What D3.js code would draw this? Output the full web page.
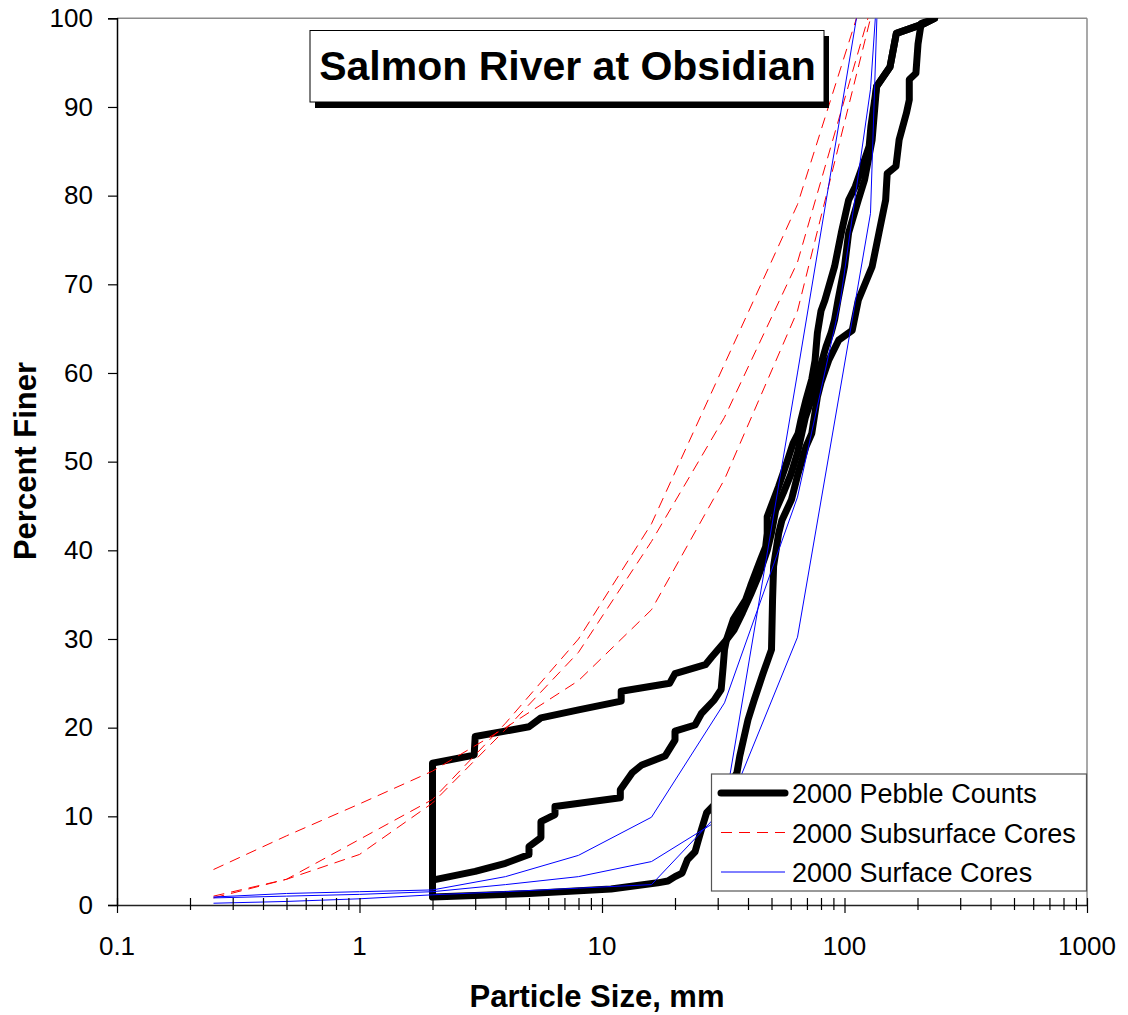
<!DOCTYPE html>
<html>
<head>
<meta charset="utf-8">
<script src="https://cdn.jsdelivr.net/npm/d3@7"></script>
<style>
  body { margin: 0; background: #fff; }
  text { font-family: "Liberation Sans", Arial, sans-serif; }
</style>
</head>
<body>
<div id="chart"></div>
<script>
// ---- data ----
var xTickLabels = ["0.1", "1", "10", "100", "1000"];
var yTickValues = [0, 10, 20, 30, 40, 50, 60, 70, 80, 90, 100];
var legendLabels = ["2000 Pebble Counts", "2000 Subsurface Cores", "2000 Surface Cores"];

// pebble counts (mm, percent finer)
var pebbleSize1 = [2, 2, 2.97, 3, 5, 5.6, 8, 12, 12, 19, 20, 26.7, 28.4, 32.6, 34.8, 39.1, 41, 45, 47.3, 48, 48, 53.5, 58, 61.4, 64.4, 66, 69.4, 73.3, 75.6, 77.3, 80, 83, 91, 97, 104, 110.7, 118.5, 126.4, 128.5, 135.6, 154, 163.6, 213, 235];
var pebblePct1  = [1, 16, 16.9, 19, 20.1, 21.1, 22, 23, 24.1, 25, 26.1, 27.1, 28, 29.9, 32.2, 34.4, 36, 38.9, 40.4, 41.9, 43.8, 47.2, 50, 52.1, 53.2, 54.6, 57, 59.3, 61.4, 64.5, 67, 68.2, 72, 75.8, 79.5, 81, 83.3, 85.6, 87.8, 92.3, 94.5, 98.3, 99.4, 100];

var pebbleSize2 = [2, 3, 4, 5, 5, 5.6, 5.6, 6.4, 6.4, 11.9, 11.9, 13.3, 14.6, 18.2, 20, 20, 24.2, 25.7, 29, 31, 31.6, 32, 32.6, 35, 38, 41, 44, 46, 48, 50, 52, 56, 60, 64, 69, 73, 77, 80, 84, 88, 91, 94, 100, 104, 114, 121, 130, 135.6, 154, 163.6, 213, 235];
var pebblePct2  = [2.8, 3.8, 4.7, 5.7, 6.6, 7.6, 9.4, 10.2, 11.1, 12.1, 13, 14.9, 15.8, 16.8, 18.6, 19.6, 20.3, 21.6, 23.1, 24.3, 26.9, 28.8, 29.9, 31, 33, 35, 37, 38.5, 40, 42, 44.5, 46.5, 48.5, 51, 55, 57, 59.3, 61, 63, 64.5, 66, 68.2, 72, 75.8, 79.5, 81.8, 86.3, 92.3, 94.5, 98.3, 99.4, 100];

var pebbleSize3 = [2, 5, 10.9, 17, 18.7, 20, 21.4, 22.5, 24.2, 24.9, 25.7, 27, 30, 33, 36, 37, 40, 42.4, 46, 50, 50.5, 51, 53.5, 55.2, 60.4, 64.4, 69.4, 73.3, 77.3, 80, 86, 94.6, 107.6, 114, 130, 138.7, 147.8, 150, 163, 168, 180, 185, 185, 197, 201, 207, 235];
var pebblePct3  = [0.9, 1.3, 1.8, 2.5, 2.7, 3.2, 3.6, 5.1, 6, 7.2, 8.5, 10.4, 11.7, 13.2, 14.9, 16.8, 20.9, 23.1, 26, 28.8, 34.4, 38.2, 41.9, 43.4, 45.7, 48.7, 51.7, 53.2, 57.3, 58.9, 61.4, 63.7, 64.8, 68.2, 72, 75.8, 79.5, 82.5, 83.3, 86.3, 89.3, 90.8, 93.1, 93.8, 97.1, 99.4, 100];

// subsurface cores, sieve sizes
var coreSizes = [0.25, 0.5, 1, 2, 4, 8, 16, 32, 64, 128];
var subsurface1 = [4, 7.8, 11.4, 15.1, 20, 25.3, 33.3, 48, 67, 100];
var subsurface2 = [1, 2.9, 7.4, 11.9, 20.5, 30, 43, 61, 79, 105];
var subsurface3 = [0.8, 2.9, 5.7, 11.5, 19.8, 28.5, 41, 55, 72.5, 101];

// surface cores
var surfaceSize1 = [0.25, 0.5, 1, 2, 4, 8, 16, 32, 64, 96, 128, 134];
var surfacePct1  = [0.9, 1.3, 1.5, 1.7, 3.2, 5.6, 9.9, 22.8, 46, 68, 92, 100];
var surfaceSize2 = [0.25, 0.5, 1, 2, 4, 8, 16, 32, 64, 128, 136];
var surfacePct2  = [0.8, 1, 1.2, 1.5, 2.3, 3.2, 4.9, 10, 30.2, 78, 100];
var surfaceSize3 = [0.25, 0.5, 1, 2, 4, 8, 16, 32, 64, 112];
var surfacePct3  = [0.2, 0.4, 0.7, 1.15, 1.5, 1.9, 2.3, 11, 60, 100];

// ---- layout ----
var cfg = {
  width: 1128,
  height: 1015,
  left: 117,
  right: 1087,
  top: 18.3,
  bottom: 905
};

var svg = d3.select("#chart").append("svg")
            .attr("width", cfg.width)
            .attr("height", cfg.height);

var x = d3.scaleLog().domain([0.1, 1000]).range([cfg.left, cfg.right]);
var y = d3.scaleLinear().domain([0, 100]).range([cfg.bottom, cfg.top]);

svg.append("clipPath").attr("id", "plotclip")
   .append("rect")
   .attr("x", cfg.left).attr("y", cfg.top)
   .attr("width", cfg.right - cfg.left)
   .attr("height", cfg.bottom - cfg.top + 6);

// plot frame: gray top and right edge
svg.append("line")
   .attr("x1", cfg.left).attr("x2", cfg.right)
   .attr("y1", cfg.top).attr("y2", cfg.top)
   .style("stroke", "#8c8c8c").style("stroke-width", 1.5);
svg.append("line")
   .attr("x1", cfg.right).attr("x2", cfg.right)
   .attr("y1", cfg.top).attr("y2", cfg.bottom)
   .style("stroke", "#8c8c8c").style("stroke-width", 1.5);

// ---- series ----
var line = d3.line()
             .x(function(d) { return x(d[0]); })
             .y(function(d) { return y(d[1]); });

var plot = svg.append("g").attr("clip-path", "url(#plotclip)");

var pebbles = [d3.zip(pebbleSize1, pebblePct1), d3.zip(pebbleSize2, pebblePct2), d3.zip(pebbleSize3, pebblePct3)];
var subsurface = [subsurface1, subsurface2, subsurface3].map(function(s) { return d3.zip(coreSizes, s); });
var surface = [d3.zip(surfaceSize1, surfacePct1), d3.zip(surfaceSize2, surfacePct2), d3.zip(surfaceSize3, surfacePct3)];

plot.selectAll(".pebble")
    .data(pebbles).enter()
    .append("path")
    .attr("class", "pebble")
    .attr("d", line)
    .style("fill", "none")
    .style("stroke", "#000")
    .style("stroke-width", 7)
    .style("stroke-linejoin", "round")
    .style("stroke-linecap", "round");

plot.selectAll(".subsurface")
    .data(subsurface).enter()
    .append("path")
    .attr("class", "subsurface")
    .attr("d", line)
    .style("fill", "none")
    .style("stroke", "#ff0000")
    .style("stroke-width", 1)
    .style("stroke-dasharray", "11, 7");

plot.selectAll(".surface")
    .data(surface).enter()
    .append("path")
    .attr("class", "surface")
    .attr("d", line)
    .style("fill", "none")
    .style("stroke", "#0000ff")
    .style("stroke-width", 1);

// ---- axes ----
var xTicks = [];
[0.1, 1, 10, 100].forEach(function(d) {
  for (var k = 1; k < 10; k++) xTicks.push(+(d * k).toPrecision(3));
});
xTicks.push(1000);

var xAxis = svg.append("g")
               .attr("transform", "translate(0," + cfg.bottom + ")")
               .call(d3.axisBottom(x).tickValues(xTicks).tickSize(0).tickFormat(""));
xAxis.select(".domain").style("stroke", "#222").style("stroke-width", 1.5);
xAxis.selectAll(".tick line")
     .attr("y1", -7)
     .attr("y2", function(d) { return xTickLabels.indexOf(String(d)) >= 0 ? 8 : 5; })
     .style("stroke", "#000")
     .style("stroke-width", 1.2);

svg.selectAll(".xlabel")
   .data(xTickLabels).enter()
   .append("text")
   .attr("class", "xlabel")
   .attr("x", function(d) { return x(+d); })
   .attr("y", 955)
   .attr("text-anchor", "middle")
   .style("font-size", "26px")
   .text(function(d) { return d; });

var yAxis = svg.append("g")
               .attr("transform", "translate(" + cfg.left + ",0)")
               .call(d3.axisLeft(y).tickValues(yTickValues).tickSize(9).tickPadding(15));
yAxis.select(".domain").style("stroke", "#000").style("stroke-width", 1.5);
yAxis.selectAll(".tick line").style("stroke", "#000").style("stroke-width", 1.2);
yAxis.selectAll(".tick text")
     .style("font-size", "26px")
     .style("font-family", "Liberation Sans, Arial, sans-serif")
     .style("fill", "#000");

// axis titles
svg.append("text")
   .attr("x", 597)
   .attr("y", 1007)
   .attr("text-anchor", "middle")
   .style("font-size", "31px")
   .style("font-weight", "bold")
   .text("Particle Size, mm");

svg.append("text")
   .attr("transform", "translate(36," + 461 + ") rotate(-90)")
   .attr("text-anchor", "middle")
   .style("font-size", "31px")
   .style("font-weight", "bold")
   .text("Percent Finer");

// ---- title box ----
var title = svg.append("g");
title.append("rect")
     .attr("x", 315).attr("y", 36)
     .attr("width", 514).attr("height", 72)
     .style("fill", "#000");
title.append("rect")
     .attr("x", 310).attr("y", 30.5)
     .attr("width", 514).attr("height", 71.5)
     .style("fill", "#fff")
     .style("stroke", "#000")
     .style("stroke-width", 1);
title.append("text")
     .attr("x", 567.5).attr("y", 80)
     .attr("text-anchor", "middle")
     .style("font-size", "41px")
     .style("font-weight", "bold")
     .text("Salmon River at Obsidian");

// ---- legend ----
var legend = svg.append("g");
legend.append("rect")
      .attr("x", 711.5).attr("y", 774)
      .attr("width", 375).attr("height", 117)
      .style("fill", "#fff")
      .style("stroke", "#555")
      .style("stroke-width", 1.2);

var legendStyles = [
  { stroke: "#000", width: 7, dash: null },
  { stroke: "#ff0000", width: 1, dash: "11, 7" },
  { stroke: "#0000ff", width: 1, dash: null }
];

var rows = legend.selectAll(".row")
                 .data(legendLabels).enter()
                 .append("g")
                 .attr("class", "row")
                 .attr("transform", function(d, i) { return "translate(0," + (793 + i * 39.5) + ")"; });

rows.append("line")
    .attr("x1", 721).attr("x2", 785)
    .attr("y1", 0).attr("y2", 0)
    .style("stroke", function(d, i) { return legendStyles[i].stroke; })
    .style("stroke-width", function(d, i) { return legendStyles[i].width; })
    .style("stroke-linecap", function(d, i) { return i === 0 ? "round" : "butt"; })
    .style("stroke-dasharray", function(d, i) { return legendStyles[i].dash; });

rows.append("text")
    .attr("x", 792)
    .attr("y", 10)
    .style("font-size", "27px")
    .text(function(d) { return d; });
</script>
</body>
</html>
